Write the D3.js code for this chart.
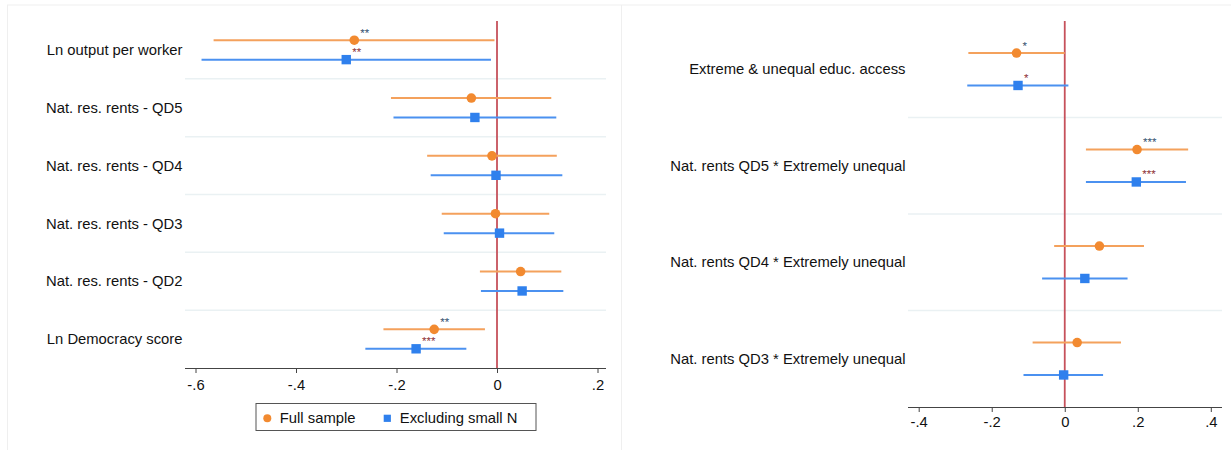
<!DOCTYPE html>
<html>
<head>
<meta charset="utf-8">
<script src="https://cdn.jsdelivr.net/npm/d3@7"></script>
<style>
  body { margin: 0; background: #fff; }
  svg { font-family: "Liberation Sans", Arial, Helvetica, sans-serif; }
</style>
</head>
<body>
<svg id="chart" width="1231" height="450"></svg>
<script>
// left panel
const leftLabels = ["Ln output per worker", "Nat. res. rents - QD5", "Nat. res. rents - QD4",
  "Nat. res. rents - QD3", "Nat. res. rents - QD2", "Ln Democracy score"];
const leftFullCoef = [-0.284, -0.051, -0.010, -0.003, 0.047, -0.125];
const leftFullLo = [-0.564, -0.211, -0.139, -0.110, -0.034, -0.226];
const leftFullHi = [-0.005, 0.108, 0.119, 0.104, 0.128, -0.024];
const leftSmallCoef = [-0.300, -0.044, -0.002, 0.005, 0.050, -0.161];
const leftSmallLo = [-0.588, -0.206, -0.132, -0.106, -0.032, -0.262];
const leftSmallHi = [-0.012, 0.118, 0.130, 0.114, 0.132, -0.061];
const leftFullStars = ["**", "", "", "", "", "**"];
const leftSmallStars = ["**", "", "", "", "", "***"];
const leftTicks = [-0.6, -0.4, -0.2, 0, 0.2];
const leftTickLabels = ["-.6", "-.4", "-.2", "0", ".2"];

// right panel
const rightLabels = ["Extreme & unequal educ. access", "Nat. rents QD5 * Extremely unequal",
  "Nat. rents QD4 * Extremely unequal", "Nat. rents QD3 * Extremely unequal"];
const rightFullCoef = [-0.132, 0.198, 0.095, 0.034];
const rightFullLo = [-0.264, 0.058, -0.029, -0.088];
const rightFullHi = [0.000, 0.338, 0.217, 0.154];
const rightSmallCoef = [-0.128, 0.196, 0.055, -0.003];
const rightSmallLo = [-0.267, 0.058, -0.062, -0.113];
const rightSmallHi = [0.010, 0.332, 0.172, 0.105];
const rightFullStars = ["*", "***", "", ""];
const rightSmallStars = ["*", "***", "", ""];
const rightTicks = [-0.4, -0.2, 0, 0.2, 0.4];
const rightTickLabels = ["-.4", "-.2", "0", ".2", ".4"];

const seriesNames = ["Full sample", "Excluding small N"];

const orange = "#f28a30", orangeLine = "#f4a15c";
const blue = "#2f80ed", blueLine = "#4b91f0";
const starFull = "#34506f", starSmall = "#8e2f35";
const refColor = "#c6515b";
const fs = 14.8;

const svg = d3.select("#chart");

// light frame around the two graph images
svg.append("g").attr("stroke", "#efefef").attr("stroke-width", 1)
  .selectAll("line")
  .data([[7, 5, 1231, 5], [7.5, 5, 7.5, 450], [621.5, 5, 621.5, 450]])
  .join("line")
  .attr("x1", d => d[0]).attr("y1", d => d[1])
  .attr("x2", d => d[2]).attr("y2", d => d[3]);

function drawPanel(p) {
  const g = svg.append("g");
  const x = d3.scaleLinear().domain(p.domain).range(p.range);
  const y = d3.scaleBand().domain(p.labels).range([p.top, p.bottom]).padding(0);
  const off = y.bandwidth() * 0.168;
  const cy = l => y(l) + y.bandwidth() / 2;

  // row separators
  g.append("g").selectAll("line")
    .data(p.labels.slice(1))
    .join("line")
    .attr("x1", p.plotLeft).attr("x2", p.plotRight)
    .attr("y1", d => y(d)).attr("y2", d => y(d))
    .attr("stroke", "#eaf1f3").attr("stroke-width", 1.5);

  // row labels
  g.append("g").selectAll("text")
    .data(p.labels)
    .join("text")
    .attr("x", p.labelX).attr("y", d => cy(d)).attr("dy", "0.35em")
    .attr("text-anchor", "end").attr("font-size", fs).attr("fill", "#111")
    .text(d => d);

  // reference line at zero
  g.append("line")
    .attr("x1", x(0)).attr("x2", x(0))
    .attr("y1", p.top).attr("y2", p.bottom)
    .attr("stroke", refColor).attr("stroke-width", 1.8);

  const series = [
    { coef: p.fullCoef, lo: p.fullLo, hi: p.fullHi, stars: p.fullStars, dy: -off,
      line: orangeLine, fill: orange, star: starFull, shape: "circle" },
    { coef: p.smallCoef, lo: p.smallLo, hi: p.smallHi, stars: p.smallStars, dy: off,
      line: blueLine, fill: blue, star: starSmall, shape: "square" }
  ];

  series.forEach(s => {
    const rows = p.labels.map((l, i) => ({ l, c: s.coef[i], lo: s.lo[i], hi: s.hi[i], st: s.stars[i] }));
    const sg = g.append("g");
    sg.selectAll("line")
      .data(rows)
      .join("line")
      .attr("x1", d => x(d.lo)).attr("x2", d => x(d.hi))
      .attr("y1", d => cy(d.l) + s.dy).attr("y2", d => cy(d.l) + s.dy)
      .attr("stroke", s.line).attr("stroke-width", 2);
    if (s.shape === "circle") {
      sg.selectAll("circle")
        .data(rows)
        .join("circle")
        .attr("cx", d => x(d.c)).attr("cy", d => cy(d.l) + s.dy)
        .attr("r", 4.8).attr("fill", s.fill);
    } else {
      sg.selectAll("rect")
        .data(rows)
        .join("rect")
        .attr("x", d => x(d.c) - 4.7).attr("y", d => cy(d.l) + s.dy - 4.7)
        .attr("width", 9.4).attr("height", 9.4).attr("fill", s.fill);
    }
    sg.selectAll("text")
      .data(rows.filter(d => d.st))
      .join("text")
      .attr("x", d => x(d.c) + 6).attr("y", d => cy(d.l) + s.dy - 3.5)
      .attr("font-size", 11.5).attr("fill", s.star)
      .text(d => d.st);
  });

  // x axis
  const ax = g.append("g")
    .attr("transform", "translate(0," + p.bottom + ")")
    .call(d3.axisBottom(x).tickValues(p.ticks)
      .tickFormat((d, i) => p.tickLabels[i])
      .tickSize(5).tickPadding(p.tickPad).tickSizeOuter(0));
  ax.select(".domain").remove();
  ax.selectAll(".tick line").attr("stroke", "#444");
  ax.selectAll(".tick text").attr("font-size", fs).attr("fill", "#111")
    .attr("font-family", "\"Liberation Sans\", Arial, sans-serif");
  ax.append("line")
    .attr("x1", p.plotLeft).attr("x2", p.plotRight)
    .attr("y1", 0.5).attr("y2", 0.5)
    .attr("stroke", "#444").attr("stroke-width", 1.2);
  return x;
}

drawPanel({
  labels: leftLabels, domain: [-0.6, 0.2], range: [195.5, 597.5],
  top: 21, bottom: 368, plotLeft: 185, plotRight: 606, labelX: 182.5,
  fullCoef: leftFullCoef, fullLo: leftFullLo, fullHi: leftFullHi, fullStars: leftFullStars,
  smallCoef: leftSmallCoef, smallLo: leftSmallLo, smallHi: leftSmallHi, smallStars: leftSmallStars,
  ticks: leftTicks, tickLabels: leftTickLabels, tickPad: 6
});

drawPanel({
  labels: rightLabels, domain: [-0.4, 0.4], range: [918.7, 1210.8],
  top: 21, bottom: 407, plotLeft: 908, plotRight: 1222, labelX: 905.5,
  fullCoef: rightFullCoef, fullLo: rightFullLo, fullHi: rightFullHi, fullStars: rightFullStars,
  smallCoef: rightSmallCoef, smallLo: rightSmallLo, smallHi: rightSmallHi, smallStars: rightSmallStars,
  ticks: rightTicks, tickLabels: rightTickLabels, tickPad: 4
});

// legend under the left panel
const legend = svg.append("g");
legend.append("rect")
  .attr("x", 256).attr("y", 403.5).attr("width", 280).attr("height", 27)
  .attr("fill", "#fff").attr("stroke", "#555").attr("stroke-width", 1);
const items = legend.selectAll("g")
  .data(seriesNames)
  .join("g")
  .attr("transform", (d, i) => "translate(" + [267.3, 387.3][i] + ",418.3)");
items.filter((d, i) => i === 0).append("circle").attr("r", 4).attr("fill", orange);
items.filter((d, i) => i === 1).append("rect")
  .attr("x", -3.6).attr("y", -3.6).attr("width", 7.2).attr("height", 7.2).attr("fill", blue);
items.append("text")
  .attr("x", 12.5).attr("dy", "0.35em").attr("font-size", fs).attr("fill", "#111")
  .text(d => d);
</script>
</body>
</html>
